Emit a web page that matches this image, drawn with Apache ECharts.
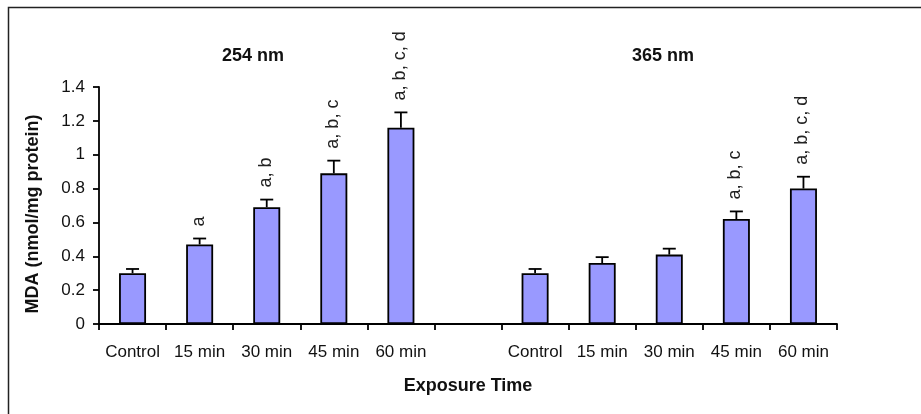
<!DOCTYPE html>
<html>
<head>
<meta charset="utf-8">
<script src="https://cdn.jsdelivr.net/npm/echarts@6/dist/echarts.min.js"></script>
<style>
  html, body { margin: 0; padding: 0; background: #fff; }
  #chart { width: 921px; height: 414px; }
</style>
</head>
<body>
<div id="chart"></div>
<script>
// MDA levels after UV exposure, mean with positive error bar
const timePoints = ['Control', '15 min', '30 min', '45 min', '60 min'];
const groups = ['254 nm', '365 nm'];

const mda254 = [0.30, 0.47, 0.69, 0.89, 1.16];
const err254 = [0.025, 0.035, 0.045, 0.075, 0.09];
const sig254 = ['', 'a', 'a, b', 'a, b, c', 'a, b, c, d'];

const mda365 = [0.30, 0.36, 0.41, 0.62, 0.80];
const err365 = [0.025, 0.035, 0.035, 0.045, 0.07];
const sig365 = ['', '', '', 'a, b, c', 'a, b, c, d'];

const yTicks = [0, 0.2, 0.4, 0.6, 0.8, 1, 1.2, 1.4];

const FONT = '"Liberation Sans", Arial, Helvetica, sans-serif';
const INK = '#111';
const LW = 1.8;

// Both wavelength groups share one category axis, with an empty slot between them
const categories = [];
const means = [];
const errs = [];
const sigs = [];
[[mda254, err254, sig254], [mda365, err365, sig365]].forEach(([m, e, s], gi) => {
  if (gi > 0) {
    categories.push('gap');
    means.push('-');
    errs.push(null);
    sigs.push('');
  }
  timePoints.forEach((t, i) => {
    categories.push(groups[gi] + '|' + t);
    means.push(m[i]);
    errs.push(e[i]);
    sigs.push(s[i]);
  });
});

const errData = [];
means.forEach((v, i) => {
  if (errs[i] != null) errData.push([i, v, errs[i]]);
});
const errSigs = errData.map(d => sigs[d[0]]);

const chart = echarts.init(document.getElementById('chart'), null, { renderer: 'canvas' });

chart.setOption({
  animation: false,
  backgroundColor: '#fff',
  textStyle: { fontFamily: FONT },
  grid: { left: 99, right: 84, top: 87, bottom: 90, containLabel: false },
  xAxis: {
    type: 'category',
    data: categories,
    boundaryGap: true,
    axisLine: { lineStyle: { color: '#000', width: LW } },
    axisTick: { show: true, length: 6, interval: 0, lineStyle: { color: '#000', width: LW } },
    axisLabel: {
      interval: 0,
      margin: 20,
      fontSize: 17,
      fontFamily: FONT,
      color: INK,
      formatter: k => (k.split('|')[1] || '')
    },
    splitLine: { show: false },
    name: 'Exposure Time',
    nameLocation: 'middle',
    nameGap: 53,
    nameTextStyle: { fontSize: 18, fontWeight: 'bold', fontFamily: FONT, color: INK }
  },
  yAxis: {
    type: 'value',
    min: yTicks[0],
    max: yTicks[yTicks.length - 1],
    interval: yTicks[1] - yTicks[0],
    axisLine: { show: true, lineStyle: { color: '#000', width: LW } },
    axisTick: { show: true, length: 6, lineStyle: { color: '#000', width: LW } },
    axisLabel: { fontSize: 17, fontFamily: FONT, color: INK, margin: 14 },
    splitLine: { show: false }
  },
  graphic: [
    {
      type: 'rect',
      silent: true,
      z: 100,
      shape: { x: 8.5, y: 7.5, width: 960, height: 460 },
      style: { fill: 'none', stroke: '#222', lineWidth: 1.5 }
    },
    {
      type: 'text',
      x: 253, y: 56,
      style: { text: groups[0], font: 'bold 18px ' + FONT, fill: INK, align: 'center', verticalAlign: 'middle' }
    },
    {
      type: 'text',
      x: 663, y: 56,
      style: { text: groups[1], font: 'bold 18px ' + FONT, fill: INK, align: 'center', verticalAlign: 'middle' }
    },
    {
      type: 'text',
      x: 33, y: 214,
      rotation: Math.PI / 2,
      style: { text: 'MDA (nmol/mg protein)', font: 'bold 18px ' + FONT, fill: INK, align: 'center', verticalAlign: 'middle' }
    }
  ],
  series: [
    {
      type: 'bar',
      data: means,
      barWidth: 27,
      itemStyle: { color: '#9999FF', borderColor: '#000', borderWidth: LW },
      z: 2
    },
    {
      type: 'custom',
      clip: false,
      z: 3,
      data: errData,
      renderItem: (params, api) => {
        const idx = api.value(0);
        const mean = api.value(1);
        const err = api.value(2);
        const base = api.coord([idx, mean]);
        const top = api.coord([idx, mean + err]);
        const cap = 6.5;
        const children = [
          { type: 'line', shape: { x1: top[0], y1: base[1], x2: top[0], y2: top[1] }, style: { stroke: '#000', lineWidth: LW } },
          { type: 'line', shape: { x1: top[0] - cap, y1: top[1], x2: top[0] + cap, y2: top[1] }, style: { stroke: '#000', lineWidth: LW } }
        ];
        const sig = errSigs[params.dataIndex];
        if (sig) {
          children.push({
            type: 'text',
            x: top[0] - 1,
            y: top[1] - 12,
            rotation: Math.PI / 2,
            style: { text: sig, font: '18px ' + FONT, fill: '#222', align: 'left', verticalAlign: 'middle' }
          });
        }
        return { type: 'group', children };
      }
    }
  ]
});
</script>
</body>
</html>
